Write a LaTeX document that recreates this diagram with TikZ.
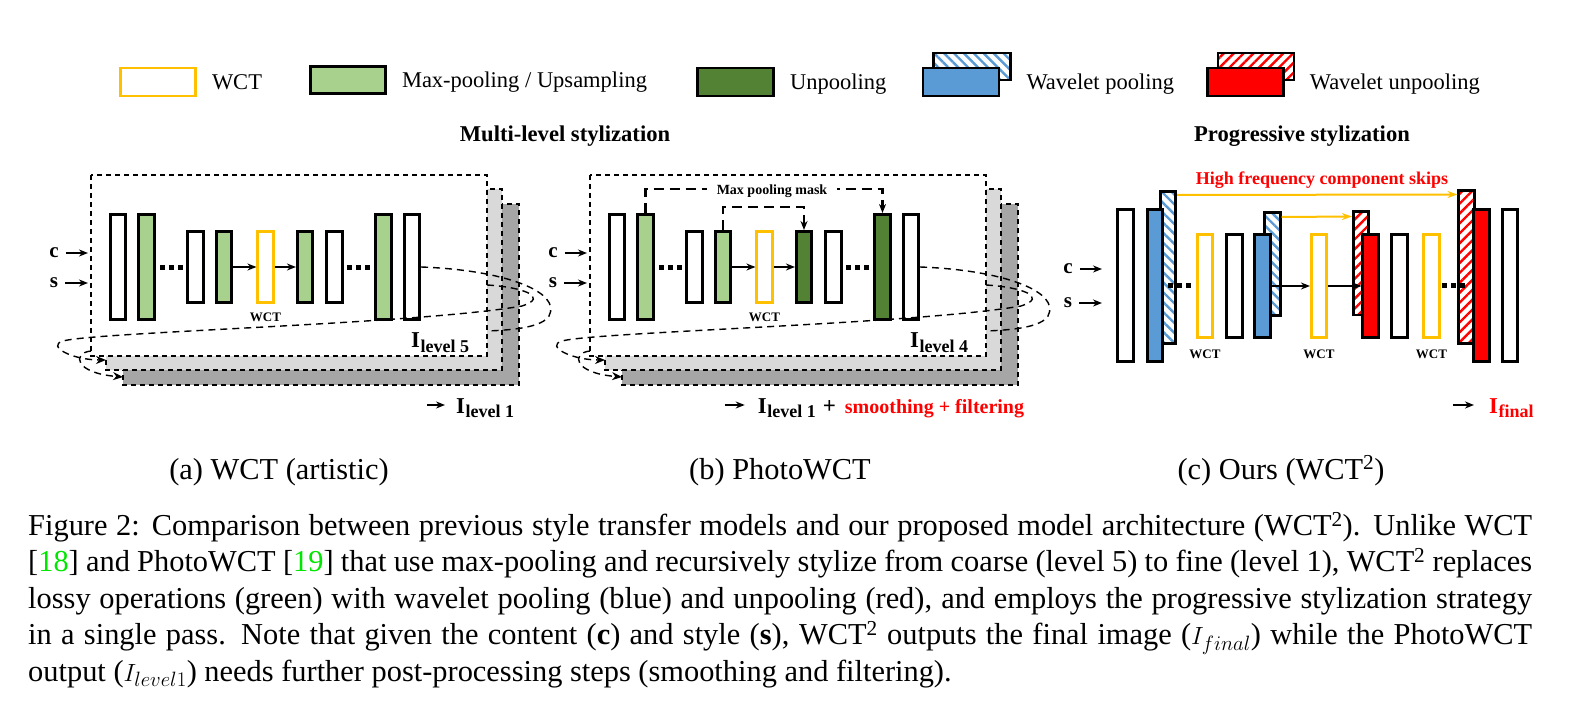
\documentclass[tikz,border=0pt]{standalone}
\usepackage{fontspec}
\setmainfont{Liberation Serif}
\usepackage{tikz}
\usetikzlibrary{arrows.meta,patterns.meta,positioning}

\definecolor{wctyellow}{HTML}{FFC000}
\definecolor{poolgreen}{HTML}{A9D18E}
\definecolor{unpoolgreen}{HTML}{548235}
\definecolor{wavblue}{HTML}{5B9BD5}
\definecolor{wavred}{HTML}{FF0000}
\definecolor{framelight}{HTML}{D9D9D9}
\definecolor{framedark}{HTML}{A6A6A6}
\definecolor{citegreen}{HTML}{00E600}

\newcommand{\pxsize}[1]{\fontsize{#1}{#1}\selectfont}
\newcommand{\Isub}[1]{{\bfseries\pxsize{22.7}I\kern0.6pt\raisebox{-4.5pt}{\pxsize{18}#1}}}

\tikzset{
  hatchbase/.style={rectangle, draw=black, line width=2.6pt, inner sep=0pt, minimum width=15.5pt},
  lay/.style={hatchbase, fill=white},
  conv/.style={lay},
  pool/.style={lay, fill=poolgreen},
  unpool/.style={lay, fill=unpoolgreen},
  wct/.style={lay, draw=wctyellow},
  wpool/.style={lay, fill=wavblue},
  wunpool/.style={lay, fill=wavred},
  wpoolhf/.style={hatchbase, pattern={Lines[angle=-45,distance=7pt,line width=2.4pt]}, pattern color=wavblue},
  wunpoolhf/.style={hatchbase, pattern={Lines[angle=45,distance=7pt,line width=2.4pt]}, pattern color=wavred},
  tallbox/.style={minimum height=105.4pt},
  shortbox/.style={minimum height=71.4pt},
  bigbox/.style={minimum height=152.4pt},
  smallbox/.style={minimum height=103.4pt},
  panelframe/.style={draw=black, line width=1.5pt, dash pattern=on 5pt off 4pt},
  flow/.style={line width=1.6pt, -{Stealth[length=9pt,width=7pt]}},
  recur/.style={line width=1.4pt, dash pattern=on 7pt off 5pt, -{Stealth[length=10pt,width=8pt]}},
  maskline/.style={line width=2.2pt, dash pattern=on 10pt off 6pt, -{Stealth[length=9pt,width=7pt]}},
  hfskip/.style={draw=wctyellow, line width=2pt, -{Stealth[length=10pt,width=7pt]}},
  legtext/.style={anchor=west, inner sep=0pt, text height=16pt, text depth=0pt, font=\pxsize{22.5}},
  lbl/.style={inner sep=0pt, font=\bfseries\pxsize{13}},
  inpt/.style={inner sep=7pt, font=\bfseries\pxsize{21}},
}

\begin{document}
\begin{tikzpicture}[x=1pt,y=-1pt]
  \useasboundingbox (0,0) rectangle (1593,703);
  \fill[white] (0,0) rectangle (1593,703);

  % legend
  \node[wct, minimum width=75pt, minimum height=28pt] (lgwct) at (158,82) {};
  \node[legtext, right=15pt of lgwct] {WCT};
  \node[pool, minimum width=75pt, minimum height=27pt] (lgpool) at (348,80) {};
  \node[legtext, right=15pt of lgpool] {Max-pooling / Upsampling};
  \node[unpool, minimum width=76pt, minimum height=28pt] (lgunpool) at (735.5,82) {};
  \node[legtext, right=15pt of lgunpool] {Unpooling};
  \node[wpoolhf, minimum width=77pt, minimum height=27pt] (lgwph) at (972,66.7) {};
  \node[wpool, minimum width=76pt, minimum height=28pt] (lgwp) at (961,82) {};
  \node[legtext, right=26pt of lgwp] {Wavelet pooling};
  \node[wunpoolhf, minimum width=76pt, minimum height=27pt] (lgwuh) at (1256,66.7) {};
  \node[wunpool, minimum width=76pt, minimum height=28pt] (lgwu) at (1245.3,82) {};
  \node[legtext, right=25pt of lgwu] {Wavelet unpooling};

  \node[anchor=base, font=\bfseries\pxsize{22.6}] (titlems) at (565,142) {Multi-level stylization};
  \node[anchor=base, font=\bfseries\pxsize{22.6}] (titleps) at (1302,142) {Progressive stylization};

  % (a) and (b): recursive multi-level
  \foreach \p/\dx/\up/\lev in {a/0/pool/5, b/499/unpool/4}{
    \begin{scope}[xshift=\dx pt]
      \draw[panelframe, fill=framedark] (123,204) rectangle (519,385);
      \draw[panelframe, fill=framelight] (106,189) rectangle (502,370);
      \draw[panelframe, fill=white] (91,175) rectangle (487,356);
      \foreach \n/\x/\s/\h in {1/118/conv/tallbox, 2/146.5/pool/tallbox, 3/195.5/conv/shortbox,
                              4/224/pool/shortbox, 5/265.5/wct/shortbox, 7/334.5/conv/shortbox, 9/412/conv/tallbox}
        \node[\s,\h] (\p\n) at (\x,267) {};
      \node[\up,shortbox] (\p6) at (305,267) {};
      \node[\up,tallbox] (\p8) at (383.5,267) {};
      \draw[flow] (\p4) -- (\p5);
      \draw[flow] (\p5) -- (\p6);
      \foreach \x in {160,347} \foreach \i in {0,9,18}
        \fill (\x+\i,265.5) rectangle +(5,5);
      \node[lbl, below=9pt of \p5] {WCT};
      \node[anchor=base west, inner sep=0pt] (\p lev) at (411,348) {\Isub{level \lev}};
      \node[inpt] (\p c) at (54,253) {c};
      \node[inpt] (\p s) at (54,283) {s};
      \coordinate (\p cin) at (88,253);
      \coordinate (\p sin) at (88,283);
      \draw[flow] (\p c) -- (\p cin);
      \draw[flow] (\p s) -- (\p sin);
      % recursion loops
      \coordinate (\p in2) at (106,360);
      \coordinate (\p in3) at (123,377);
      \draw[recur, -] (\p9.east) .. controls (505,270) and (562,292) .. (549,316)
                                 .. controls (542,327) and (515,330) .. (487,331);
      \draw[recur] (91,351) .. controls (72,353) and (74,373) .. (\p in3);
      \draw[recur] (487,285) .. controls (522,287) and (550,297) .. (522,306)
                   .. controls (420,324) and (95,332) .. (63,341)
                   .. controls (46,346) and (72,360) .. (\p in2);
    \end{scope}
  }

  % max pooling mask (b)
  \draw[maskline] (b2.north) -- ++(0,-24) -| (b8.north);
  \draw[maskline] (b4.north) -- ++(0,-23) -| (b6.north);
  \node[fill=white, inner xsep=10pt, inner ysep=2pt, font=\bfseries\pxsize{14}] (masklbl) at (772,191) {Max pooling mask};

  % outputs of (a) and (b)
  \node[anchor=base west, inner sep=0pt] (aout) at (456,413) {\Isub{level 1}};
  \coordinate (aarr) at (427,405);
  \draw[flow, shorten >=11pt] (aarr) -- (aarr -| aout.west);
  \node[anchor=base west, inner sep=0pt] (bout) at (757.7,413)
    {\Isub{level 1}\hspace{7pt}{\bfseries\pxsize{23}+}\hspace{9pt}{\bfseries\pxsize{20}\color{wavred}smoothing + filtering}};
  \coordinate (barr) at (725,405);
  \draw[flow, shorten >=13pt] (barr) -- (barr -| bout.west);

  % (c): progressive
  \node[conv,bigbox] (c1) at (1125.5,285.5) {};
  \node[wpoolhf,bigbox] (c2h) at (1168,267.5) {};
  \node[wpool,bigbox] (c2) at (1155,285.5) {};
  \node[wct,smallbox] (c3) at (1205,286) {};
  \node[conv,smallbox] (c4) at (1234.5,286) {};
  \node[wpoolhf,smallbox] (c5h) at (1272.5,264) {};
  \node[wpool,smallbox] (c5) at (1262.5,286) {};
  \node[wct,smallbox] (c6) at (1319,286) {};
  \node[wunpoolhf,smallbox] (c7h) at (1361,263.5) {};
  \node[wunpool,smallbox] (c7) at (1370.5,286) {};
  \node[conv,smallbox] (c8) at (1399.5,286) {};
  \node[wct,smallbox] (c9) at (1431.5,286) {};
  \node[wunpoolhf,bigbox] (c10h) at (1466.5,267) {};
  \node[wunpool,bigbox] (c10) at (1481.5,285.5) {};
  \node[conv,bigbox] (c11) at (1510,285.5) {};
  \foreach \x in {1168,1442} \foreach \i in {0,9,18}
    \fill (\x+\i,283.5) rectangle +(5,5);
  \draw[flow] (c5) -- (c6);
  \draw[flow] (c6) -- (c7);
  \draw[hfskip] ([yshift=-5pt]c2h.north east) -- ([yshift=-5pt]c10h.north west);
  \draw[hfskip] ([yshift=-6pt]c5h.north east) -- ([yshift=-6pt]c7h.north west);
  \node[anchor=base, inner sep=0pt, text=wavred, font=\bfseries\pxsize{18}] (hflbl) at (1322,184.5) {High frequency component skips};
  \foreach \w in {c3,c6,c9}
    \node[lbl, below=11pt of \w] {WCT};
  \node[inpt] (cc) at (1068,269) {c};
  \node[inpt] (cs) at (1068,303) {s};
  \coordinate (ccin) at (1102,269);
  \coordinate (csin) at (1102,303);
  \draw[flow] (cc) -- (ccin);
  \draw[flow] (cs) -- (csin);
  \node[anchor=base west, inner sep=0pt, text=wavred] (cout) at (1489,413) {\Isub{final}};
  \coordinate (carr) at (1453,405);
  \draw[flow, shorten >=15pt] (carr) -- (carr -| cout.west);

  % sub-captions and caption
  \node[anchor=base, font=\pxsize{30.4}] (suba) at (279,479) {(a) WCT (artistic)};
  \node[anchor=base, font=\pxsize{30.4}] (subb) at (780,479) {(b) PhotoWCT};
  \node[anchor=base, font=\pxsize{30.4}] (subc) at (1281,479) {(c) Ours (WCT\textsuperscript{2})};
  \node[anchor=north west, inner sep=0pt, text width=1504pt, align=justify,
        font=\fontsize{30.4}{36.5}\selectfont] (caption) at (28,509.4)
    {\hyphenpenalty=10000 \exhyphenpenalty=10000 \strut Figure 2: Comparison between previous style transfer models and our proposed model architecture (WCT\textsuperscript{2}). Unlike WCT\linebreak{}
     [\textcolor{citegreen}{18}] and PhotoWCT [\textcolor{citegreen}{19}] that use max-pooling and recursively stylize from coarse (level 5) to fine (level 1), WCT\textsuperscript{2} replaces\linebreak{}
     lossy operations (green) with wavelet pooling (blue) and unpooling (red), and employs the progressive stylization strategy\linebreak{}
     in a single pass. Note that given the content (\textbf{c}) and style (\textbf{s}), WCT\textsuperscript{2} outputs the final image ($I_{final}$) while the PhotoWCT\linebreak{}
     output ($I_{level1}$) needs further post-processing steps (smoothing and filtering).};
\end{tikzpicture}
\end{document}
